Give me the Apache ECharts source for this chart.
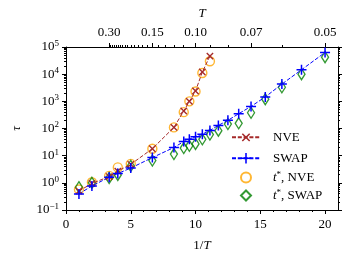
<!DOCTYPE html>
<html><head><meta charset="utf-8">
<script src="https://cdn.jsdelivr.net/npm/echarts@6/dist/echarts.min.js"></script>
<style>html,body{margin:0;padding:0;background:#fff}#c{width:353px;height:262px}</style>
</head><body><div id="c"></div>
<script>
// ---- data (1/T on x, tau on y) ----
const nveX     = [1, 2, 3.333, 4, 5, 6.667, 8.333, 9.091, 9.524, 10, 10.526, 11.111];
const nveTau   = [0.5, 0.95, 1.7, 2.7, 4.8, 18, 110, 440, 1000, 2400, 12000, 46000];
const nveTstar = [0.57, 1.05, 1.8, 3.7, 5.0, 18, 110, 400, 1000, 2300, 11000, 30000];
const swapX     = [1, 2, 3.333, 4, 5, 6.667, 8.333, 9.091, 9.524, 10, 10.526, 11.111, 11.765, 12.5, 13.333, 14.286, 15.385, 16.667, 18.182, 20];
const swapTau   = [0.39, 0.77, 1.6, 2.2, 3.5, 8.5, 20, 33, 40, 50, 62, 85, 130, 200, 350, 650, 1450, 4300, 14500, 63000];
const swapTstar = [0.69, 1.0, 1.5, 1.95, 4.2, 6.6, 11.5, 19, 23, 27, 40, 60, 83, 145, 155, 380, 1200, 3300, 10000, 42000];
// tick labels
const bottomTicks = [0, 5, 10, 15, 20];
const bottomMinor = [1,2,3,4,6,7,8,9,11,12,13,14,16,17,18,19];
const topT = [0.30, 0.15, 0.10, 0.07, 0.05];
const topMinorT = [0.29,0.28,0.27,0.26,0.25,0.24,0.23,0.22,0.21,0.20,0.19,0.18,0.17,0.16,0.14,0.13,0.12,0.11,0.09,0.08,0.06];

const F = 'Liberation Serif';
const BLACK = '#000';
const pair = (xs, ys) => xs.map((x, i) => [x, ys[i]]);
const yMinorLog = [];
for (let n = -1; n <= 4; n++) for (let k = 2; k <= 9; k++) yMinorLog.push(n + Math.log10(k));

const PLUS = 'path://M4.25,0H5.75V10H4.25Z M0,4.25H10V5.75H0Z';

const chart = echarts.init(document.getElementById('c'), null, {renderer: 'canvas'});
const baseAxisLine = {onZero: false, lineStyle: {color: BLACK, width: 1}};
const hiddenLine = {show: false, onZero: false};
const supRich = {s: {fontSize: 9, fontFamily: F, color: BLACK, padding: [0, 0, 7, 0]}};
const legendRich = {i: {fontStyle: 'italic', fontFamily: F, fontSize: 13, color: BLACK},
                    s: {fontSize: 9, fontFamily: F, color: BLACK, padding: [0, 0, 6, 0]}};
const legendNames = {NVE: 'NVE', SWAP: 'SWAP', tNVE: '{i|t}{s|*}, NVE', tSWAP: '{i|t}{s|*}, SWAP'};

chart.setOption({
  animation: false,
  grid: {left: 66, right: 15, top: 47, bottom: 52, containLabel: false},
  xAxis: [
    {type: 'value', position: 'bottom', min: 0, max: 21,
     axisLine: baseAxisLine,
     axisTick: {length: 4, customValues: bottomTicks, lineStyle: {color: BLACK}},
     axisLabel: {customValues: bottomTicks, color: BLACK, fontFamily: F, fontSize: 13, margin: 8},
     splitLine: {show: false},
     name: '1/{i|T}', nameLocation: 'middle', nameGap: 29,
     nameTextStyle: {color: BLACK, fontFamily: F, fontSize: 13,
       rich: {i: {fontStyle: 'italic', fontFamily: F, fontSize: 13, color: BLACK}}}},
    {type: 'value', position: 'bottom', min: 0, max: 21,
     axisLine: hiddenLine,
     axisTick: {length: 2, customValues: bottomMinor, lineStyle: {color: BLACK}},
     axisLabel: {show: false}, splitLine: {show: false}},
    {type: 'value', position: 'top', min: 0, max: 21,
     axisLine: baseAxisLine,
     axisTick: {length: 4, customValues: topT.map(t => 1 / t), lineStyle: {color: BLACK}},
     axisLabel: {customValues: topT.map(t => 1 / t), formatter: v => (1 / v).toFixed(2),
       color: BLACK, fontFamily: F, fontSize: 13, margin: 8},
     splitLine: {show: false},
     name: 'T', nameLocation: 'middle', nameGap: 27,
     nameTextStyle: {color: BLACK, fontFamily: F, fontSize: 13, fontStyle: 'italic'}},
    {type: 'value', position: 'top', min: 0, max: 21,
     axisLine: hiddenLine,
     axisTick: {length: 2, customValues: topMinorT.map(t => 1 / t), lineStyle: {color: BLACK}},
     axisLabel: {show: false}, splitLine: {show: false}}
  ],
  yAxis: [
    {type: 'log', logBase: 10, min: 0.1, max: 100000, position: 'left',
     axisLine: baseAxisLine,
     axisTick: {length: 4, lineStyle: {color: BLACK}},
     axisLabel: {color: BLACK, fontFamily: F, fontSize: 13, margin: 7, rich: supRich,
       formatter: v => { const e = Math.round(Math.log10(v)); return '10{s|' + (e < 0 ? '\u2212' + (-e) : e) + '}'; }},
     splitLine: {show: false},
     name: '\u03c4', nameLocation: 'middle', nameGap: 43, nameRotate: 90,
     nameTextStyle: {color: BLACK, fontFamily: F, fontSize: 13, fontStyle: 'italic'}},
    {type: 'value', min: -1, max: 5, position: 'left',
     axisLine: hiddenLine,
     axisTick: {length: 2, customValues: yMinorLog, lineStyle: {color: BLACK}},
     axisLabel: {show: false}, splitLine: {show: false}},
    {type: 'log', logBase: 10, min: 0.1, max: 100000, position: 'right',
     axisLine: baseAxisLine,
     axisTick: {length: 4, lineStyle: {color: BLACK}},
     axisLabel: {show: false}, splitLine: {show: false}},
    {type: 'value', min: -1, max: 5, position: 'right',
     axisLine: hiddenLine,
     axisTick: {length: 2, customValues: yMinorLog, lineStyle: {color: BLACK}},
     axisLabel: {show: false}, splitLine: {show: false}}
  ],
  legend: [
    {orient: 'vertical', left: 231, top: 130, padding: 0,
     itemWidth: 28, itemHeight: 13, itemGap: 7,
     data: ['NVE', 'SWAP'],
     formatter: n => legendNames[n],
     textStyle: {color: BLACK, fontFamily: F, fontSize: 13, padding: [0, 0, 0, 8], rich: legendRich}},
    {orient: 'vertical', left: 240, top: 170, padding: 0,
     itemWidth: 10, itemHeight: 10, itemGap: 4,
     data: ['tNVE', 'tSWAP'],
     formatter: n => legendNames[n],
     textStyle: {color: BLACK, fontFamily: F, fontSize: 13, padding: [0, 0, 0, 17], rich: legendRich}}
  ],
  series: [
    {name: 'NVE', type: 'line', data: pair(nveX, nveTau), xAxisIndex: 0, yAxisIndex: 0,
     symbol: PLUS, symbolRotate: 45, symbolSize: 9, showSymbol: true,
     color: '#a52a2a', itemStyle: {color: '#a52a2a'},
     lineStyle: {color: '#a52a2a', width: 1, type: [4, 1.8]}},
    {name: 'SWAP', type: 'line', data: pair(swapX, swapTau), xAxisIndex: 0, yAxisIndex: 0,
     symbol: PLUS, symbolSize: 10, showSymbol: true,
     color: '#0000ff', itemStyle: {color: '#0000ff'},
     lineStyle: {color: '#0000ff', width: 1, type: [4, 1.8]}},
    {name: 'tNVE', type: 'scatter', data: pair(nveX, nveTstar), xAxisIndex: 0, yAxisIndex: 0,
     symbol: 'circle', symbolSize: 9, color: '#ffa500',
     itemStyle: {color: 'rgba(0,0,0,0)', borderColor: '#ffa500', borderWidth: 1.4}},
    {name: 'tSWAP', type: 'scatter', data: pair(swapX, swapTstar), xAxisIndex: 0, yAxisIndex: 0,
     symbol: 'diamond', symbolSize: [7, 11], color: '#008000',
     itemStyle: {color: 'rgba(0,0,0,0)', borderColor: '#008000', borderWidth: 1.4}}
  ]
});
</script></body></html>
